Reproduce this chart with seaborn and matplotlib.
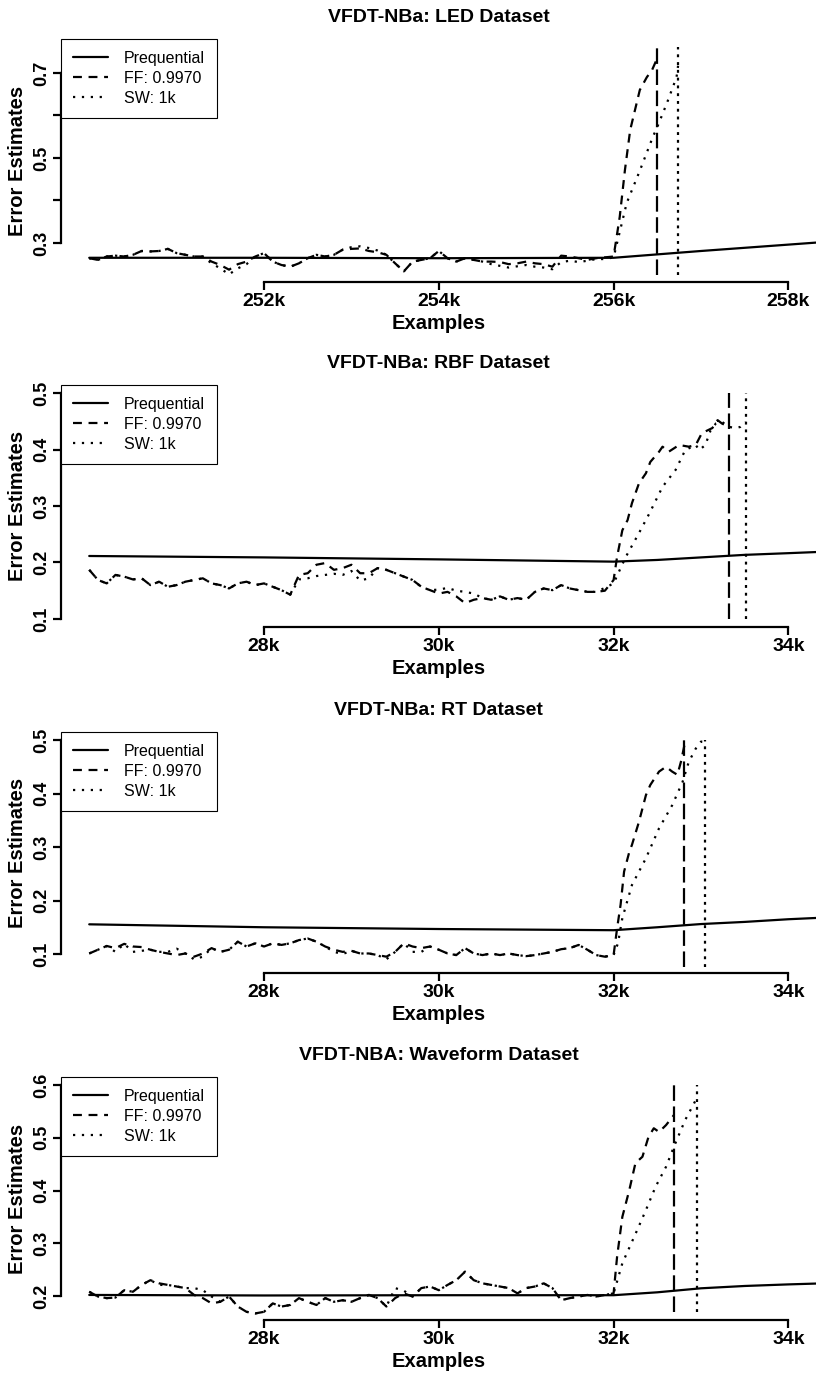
import numpy as np
import matplotlib
matplotlib.use("Agg")
import matplotlib.pyplot as plt
from matplotlib.lines import Line2D
import seaborn as sns

sns.set_style("white")
plt.rcParams["font.family"] = ["Liberation Sans", "DejaVu Sans"]
plt.rcParams.update({
    "text.color": "black",
    "axes.labelcolor": "black",
    "xtick.color": "black",
    "ytick.color": "black",
    "lines.dash_capstyle": "butt",
})

# ---- data (x in thousands of examples) ----
# noisy part sampled every 100 examples
LED_GRID = np.arange(2500, 2561) / 10.0
SYN_GRID = np.arange(260, 321) / 10.0

led_ff = [.264, .260, .268, .270, .268, .272, .281, .280, .281, .286,
          .276, .272, .268, .268, .256, .248, .237, .250, .256, .268,
          .276, .256, .248, .244, .252, .264, .272, .268, .272, .284,
          .286, .287, .281, .278, .272, .252, .233, .256, .260, .264,
          .281, .264, .256, .264, .260, .256, .256, .255, .250, .252,
          .256, .252, .250, .244, .270, .268, .264, .260, .264, .266, .268]
led_sw = [.264, .260, .268, .270, .268, .272, .281, .280, .281, .286,
          .276, .272, .268, .268, .252, .240, .226, .240, .250, .268,
          .276, .256, .248, .244, .252, .264, .272, .268, .272, .284,
          .290, .292, .288, .282, .272, .252, .233, .256, .260, .264,
          .281, .264, .256, .264, .260, .256, .250, .246, .242, .245,
          .248, .244, .242, .238, .255, .258, .255, .258, .262, .262, .266]
led_ff_rise_x = [256.07, 256.13, 256.19, 256.30, 256.38, 256.44, 256.50]
led_ff_rise_y = [.361, .472, .566, .660, .690, .707, .735]
led_sw_rise_x = [256.15, 256.30, 256.45, 256.50, 256.61, 256.72, 256.74]
led_sw_rise_y = [.394, .470, .550, .573, .629, .690, .720]
led_preq_x = [250.0, 252.0, 254.0, 256.0, 257.0, 258.4]
led_preq_y = [.265, .265, .264, .265, .281, .302]

rbf_ff = [.187, .169, .163, .178, .175, .170, .172, .160, .166, .157,
          .160, .166, .169, .172, .163, .160, .154, .163, .166, .160,
          .163, .157, .151, .143, .178, .181, .196, .199, .187, .190,
          .196, .181, .181, .190, .187, .181, .175, .169, .157, .151,
          .145, .148, .140, .128, .134, .137, .134, .140, .134, .137,
          .134, .148, .154, .151, .160, .154, .151, .148, .148, .150, .169]
rbf_sw = [.187, .169, .163, .178, .175, .170, .172, .160, .166, .157,
          .160, .166, .169, .172, .163, .160, .154, .163, .166, .160,
          .163, .157, .151, .143, .170, .172, .176, .178, .180, .178,
          .185, .168, .172, .190, .187, .181, .175, .169, .157, .151,
          .152, .155, .150, .148, .145, .137, .134, .140, .134, .137,
          .134, .148, .154, .151, .160, .154, .151, .148, .148, .155, .163]
rbf_ff_rise_x = [32.04, 32.10, 32.16, 32.21, 32.29, 32.37, 32.42, 32.52, 32.56,
                 32.63, 32.75, 32.86, 32.94, 33.01, 33.13, 33.19, 33.24, 33.32]
rbf_ff_rise_y = [.210, .257, .275, .305, .340, .358, .378, .396, .405,
                 .396, .408, .405, .408, .429, .438, .452, .446, .440]
rbf_sw_rise_x = [32.08, 32.14, 32.29, 32.41, 32.56, 32.71, 32.82, 32.94, 32.98,
                 33.05, 33.11, 33.17, 33.24, 33.32, 33.40, 33.45, 33.51]
rbf_sw_rise_y = [.190, .210, .252, .287, .334, .364, .399, .408, .399,
                 .408, .434, .446, .449, .440, .438, .440, .449]
rbf_preq_x = [26.0, 28.0, 30.0, 31.0, 32.0, 32.5, 33.0, 33.5, 34.0, 34.4]
rbf_preq_y = [.2115, .209, .2055, .2035, .2015, .2045, .209, .2135, .2165, .219]

rt_ff = [.101, .108, .115, .111, .119, .114, .113, .108, .104, .101,
         .098, .101, .095, .101, .111, .104, .108, .123, .114, .120,
         .114, .120, .117, .120, .126, .129, .123, .114, .108, .104,
         .106, .101, .101, .098, .095, .104, .120, .114, .111, .114,
         .108, .101, .098, .111, .101, .098, .101, .098, .101, .098,
         .096, .098, .101, .104, .109, .111, .117, .108, .098, .095, .098]
rt_sw = [.101, .108, .115, .104, .119, .104, .106, .108, .104, .104,
         .110, .101, .090, .095, .111, .104, .108, .123, .114, .120,
         .114, .120, .117, .120, .126, .129, .123, .114, .104, .100,
         .106, .101, .101, .098, .090, .104, .120, .104, .104, .114,
         .108, .101, .098, .111, .101, .098, .101, .098, .101, .098,
         .096, .098, .101, .104, .109, .111, .117, .108, .098, .095, .098]
rt_ff_rise_x = [32.04, 32.08, 32.12, 32.18, 32.21, 32.29, 32.37, 32.42,
                32.52, 32.60, 32.67, 32.73, 32.77, 32.81]
rt_ff_rise_y = [.148, .192, .254, .291, .304, .347, .397, .416,
                .441, .450, .441, .435, .459, .490]
rt_sw_rise_x = [32.05, 32.10, 32.21, 32.37, 32.52, 32.67, 32.79, 32.86, 32.94, 33.00, 33.05]
rt_sw_rise_y = [.120, .167, .229, .279, .335, .378, .422, .459, .484, .497, .497]
rt_preq_x = [26.0, 28.0, 30.0, 32.0, 32.5, 33.0, 33.5, 34.0, 34.4]
rt_preq_y = [.1555, .150, .1467, .1445, .150, .156, .160, .165, .168]

wf_ff = [.208, .199, .196, .197, .211, .208, .221, .230, .224, .221,
         .218, .215, .202, .196, .186, .189, .199, .180, .170, .167,
         .170, .186, .180, .183, .196, .189, .183, .196, .189, .192,
         .189, .196, .202, .196, .180, .196, .205, .199, .215, .218,
         .211, .221, .230, .246, .230, .224, .221, .218, .215, .205,
         .215, .218, .224, .215, .192, .196, .199, .202, .199, .202, .205]
wf_sw = [.208, .199, .196, .197, .211, .208, .221, .230, .221, .221,
         .218, .215, .215, .211, .199, .189, .199, .180, .170, .167,
         .170, .186, .180, .183, .196, .189, .183, .196, .189, .192,
         .189, .196, .202, .196, .180, .215, .210, .199, .215, .218,
         .211, .221, .230, .246, .230, .224, .221, .218, .215, .205,
         .215, .218, .224, .215, .192, .196, .199, .202, .199, .202, .205]
wf_ff_rise_x = [32.04, 32.10, 32.18, 32.25, 32.33, 32.40, 32.46, 32.52, 32.60, 32.69]
wf_ff_rise_y = [.2745, .350, .401, .452, .464, .502, .518, .511, .524, .543]
wf_sw_rise_x = [32.10, 32.27, 32.37, 32.48, 32.60, 32.69, 32.82, 32.92, 32.95]
wf_sw_rise_y = [.262, .325, .363, .407, .445, .483, .534, .565, .575]
wf_preq_x = [26.0, 28.0, 30.0, 32.0, 32.5, 33.0, 33.5, 34.0, 34.4]
wf_preq_y = [.202, .201, .2015, .2015, .207, .2146, .219, .222, .224]

LEGEND_LABELS = ["Prequential", "FF: 0.9970", "SW: 1k"]

FF_LS = (0, (4, 3))
SW_LS = (0, (1, 3))
FF_V_LS = (0, (7, 2.5))
SW_V_LS = (0, (1.3, 2.2))
LW = 1.6

W, H = 816, 1373
fig = plt.figure(figsize=(W / 100, H / 100), dpi=100)


def px_axes(top, bottom, left=61, right=816):
    return fig.add_axes([left / W, 1 - bottom / H, (right - left) / W, (bottom - top) / H])


def panel(top, bottom, title, grid, ff, sw, ffx, ffy, swx, swy, px, py,
          ylim, xlim, vspan, yticks, ylabels, xticks):
    ax = px_axes(top, bottom)
    sns.lineplot(x=px, y=py, ax=ax, color="black", lw=LW, estimator=None, sort=False)
    sns.lineplot(x=list(grid) + ffx, y=ff + ffy, ax=ax, color="black", lw=LW,
                 linestyle=FF_LS, estimator=None, sort=False)
    sns.lineplot(x=list(grid) + swx, y=sw + swy, ax=ax, color="black", lw=LW,
                 linestyle=SW_LS, estimator=None, sort=False)
    # change-detection markers at the end of each estimator
    ax.plot([ffx[-1], ffx[-1]], vspan, color="black", lw=LW, linestyle=FF_V_LS)
    ax.plot([swx[-1], swx[-1]], vspan, color="black", lw=LW, linestyle=SW_V_LS)

    ax.set_xlim(*xlim)
    ax.set_ylim(*ylim)
    for s in ("top", "right"):
        ax.spines[s].set_visible(False)
    for s in ("left", "bottom"):
        ax.spines[s].set_linewidth(1.6)
        ax.spines[s].set_color("black")
    ax.spines["left"].set_bounds(yticks[0], yticks[-1])
    ax.spines["bottom"].set_bounds(xticks[0], xticks[-1])

    ax.set_xticks(xticks)
    ax.set_xticklabels([f"{int(t)}k" for t in xticks], fontsize=14, fontweight="bold")
    ax.set_yticks(yticks)
    ax.set_yticklabels(ylabels, fontsize=13, fontweight="bold", rotation=90, va="center")
    ax.tick_params(axis="both", direction="out", length=6, width=1.6, color="black",
                   left=True, bottom=True, pad=2)
    ax.set_title(title, fontsize=14, fontweight="bold", pad=12)
    ax.set_xlabel("Examples", fontsize=14.5, fontweight="bold", labelpad=3)
    ax.set_ylabel("Error Estimates", fontsize=14.5, fontweight="bold", labelpad=4)

    handles = [Line2D([], [], color="black", lw=LW),
               Line2D([], [], color="black", lw=LW, linestyle=FF_LS),
               Line2D([], [], color="black", lw=LW, linestyle=SW_LS)]
    leg = ax.legend(handles, LEGEND_LABELS, loc="upper left", bbox_to_anchor=(0, 1),
                    borderaxespad=0, fancybox=False, framealpha=1, edgecolor="black",
                    fontsize=11.5, handlelength=2.2, handletextpad=1.0,
                    borderpad=0.75, labelspacing=0.3)
    leg.get_frame().set_linewidth(0.8)
    return ax


syn_xlim = (25.677, 34.316)
syn_xticks = [28, 30, 32, 34]

panel(39, 282, "VFDT-NBa: LED Dataset", LED_GRID, led_ff, led_sw,
      led_ff_rise_x, led_ff_rise_y, led_sw_rise_x, led_sw_rise_y,
      led_preq_x, led_preq_y, (0.208, 0.780), (249.677, 258.316), (0.225, 0.761),
      [0.3, 0.4, 0.5, 0.6, 0.7], ["0.3", "", "0.5", "", "0.7"], [252, 254, 256, 258])

panel(385, 627, "VFDT-NBa: RBF Dataset", SYN_GRID, rbf_ff, rbf_sw,
      rbf_ff_rise_x, rbf_ff_rise_y, rbf_sw_rise_x, rbf_sw_rise_y,
      rbf_preq_x, rbf_preq_y, (0.0858, 0.5142), syn_xlim, (0.1, 0.5),
      [0.1, 0.2, 0.3, 0.4, 0.5], ["0.1", "0.2", "0.3", "0.4", "0.5"], syn_xticks)

panel(732, 973, "VFDT-NBa: RT Dataset", SYN_GRID, rt_ff, rt_sw,
      rt_ff_rise_x, rt_ff_rise_y, rt_sw_rise_x, rt_sw_rise_y,
      rt_preq_x, rt_preq_y, (0.0645, 0.515), syn_xlim, (0.076, 0.5),
      [0.1, 0.2, 0.3, 0.4, 0.5], ["0.1", "0.2", "0.3", "0.4", "0.5"], syn_xticks)

panel(1077, 1320, "VFDT-NBA: Waveform Dataset", SYN_GRID, wf_ff, wf_sw,
      wf_ff_rise_x, wf_ff_rise_y, wf_sw_rise_x, wf_sw_rise_y,
      wf_preq_x, wf_preq_y, (0.1545, 0.6152), syn_xlim, (0.17, 0.6),
      [0.2, 0.3, 0.4, 0.5, 0.6], ["0.2", "0.3", "0.4", "0.5", "0.6"], syn_xticks)

fig.savefig("out.png", dpi=100, facecolor="white")
